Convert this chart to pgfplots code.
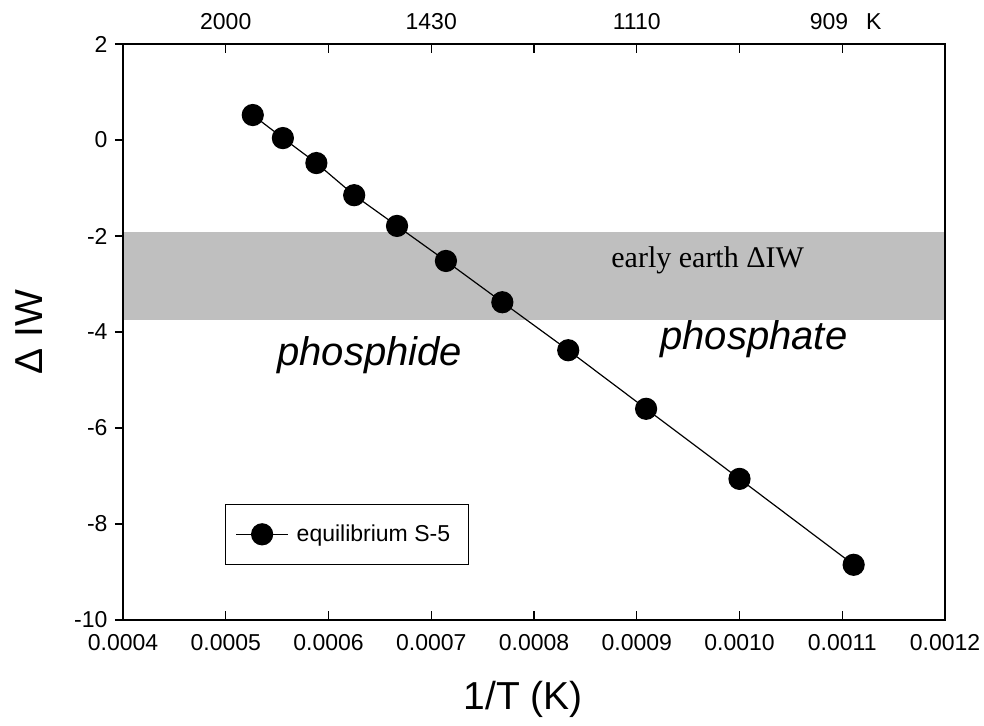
\documentclass[border=0pt]{standalone}
\usepackage{fontspec}
\setmainfont{Liberation Sans}
\newfontfamily\timesfont{Liberation Serif}
\usepackage{pgfplots}
\pgfplotsset{compat=1.18}
\begin{document}
\begin{tikzpicture}
\pgfplotsset{
  base/.style={scale only axis, width=822bp, height=576bp, at={(0,0)}, anchor=south west,
    xmin=0.0004, xmax=0.0012, ymin=-10, ymax=2,
    axis line style={line width=1.4bp},
    major tick length=9bp, tick style={line width=1.2bp, black},
    tick label style={font=\fontsize{23bp}{27bp}\selectfont},
    /pgf/number format/assume math mode=true, scaled x ticks=false,
  }
}
\begin{axis}[base, axis on top, ytick=\empty,
  xtick={0.0004,0.0005,0.0006,0.0007,0.0008,0.0009,0.0010,0.0011,0.0012},
  xtick pos=left, tick align=inside,
  xticklabel style={yshift=-11bp, /pgf/number format/.cd, fixed, fixed zerofill, precision=4},
  xlabel={1/T (K)},
  xlabel style={at={(axis description cs:0.487,-0.137)}, anchor=center, font=\fontsize{39bp}{44bp}\selectfont},
  legend style={at={(0.124,0.0955)}, anchor=south west, draw=black, line width=1.2bp,
    font=\fontsize{23bp}{27bp}\selectfont, inner xsep=10bp, inner ysep=19bp,
    nodes={inner xsep=8bp}},
  legend cell align=left,
  legend image code/.code={\draw[mark repeat=2,mark phase=2,#1] plot coordinates {(0bp,0bp) (26bp,0bp) (52bp,0bp)};},
]
\addplot[draw=none, fill=black!25, forget plot] coordinates {(0.0004,-1.92) (0.0012,-1.92) (0.0012,-3.75) (0.0004,-3.75)} -- cycle;
\addplot[black, line width=1.2bp, mark=*, mark size=10.5bp, mark options={solid, fill=black}] coordinates {
(0.0005263,0.52) (0.0005556,0.04) (0.0005882,-0.48) (0.000625,-1.15) (0.0006667,-1.79)
(0.0007143,-2.52) (0.0007692,-3.38) (0.0008333,-4.38) (0.0009091,-5.6) (0.001,-7.06) (0.0011111,-8.85)};
\addlegendentry{equilibrium S-5}
\node[anchor=base, font=\fontsize{40bp}{46bp}\selectfont\itshape] at (axis cs:0.000640,-4.69) {phosphide};
\node[anchor=base, font=\fontsize{40bp}{46bp}\selectfont\itshape] at (axis cs:0.001014,-4.375) {phosphate};
\node[anchor=base, font=\timesfont\fontsize{30bp}{34bp}\selectfont] at (axis cs:0.000969,-2.646) {early earth ΔIW};
\end{axis}
\begin{axis}[base, xtick=\empty, ytick={-10,-8,-6,-4,-2,0,2}, ytick pos=left, tick align=outside, major tick length=8bp,
  yticklabel style={xshift=-4bp},
  ylabel={Δ IW},
  ylabel style={at={(axis description cs:-0.1144,0.5)}, anchor=center, font=\fontsize{39bp}{44bp}\selectfont}]
\end{axis}
\begin{axis}[base, ytick=\empty,
  xtick={0.0005,0.0006,0.0007,0.0008,0.0009,0.0010,0.0011},
  xtick pos=right, xticklabel pos=right, tick align=inside,
  xticklabel style={yshift=11bp},
  xticklabels={2000,,1430,,1110,,{\llap{909\kern-6bp}\rlap{\kern24bp K}}}]
\end{axis}
\path (-123bp,-106bp) rectangle (861bp,620bp);
\end{tikzpicture}
\end{document}
